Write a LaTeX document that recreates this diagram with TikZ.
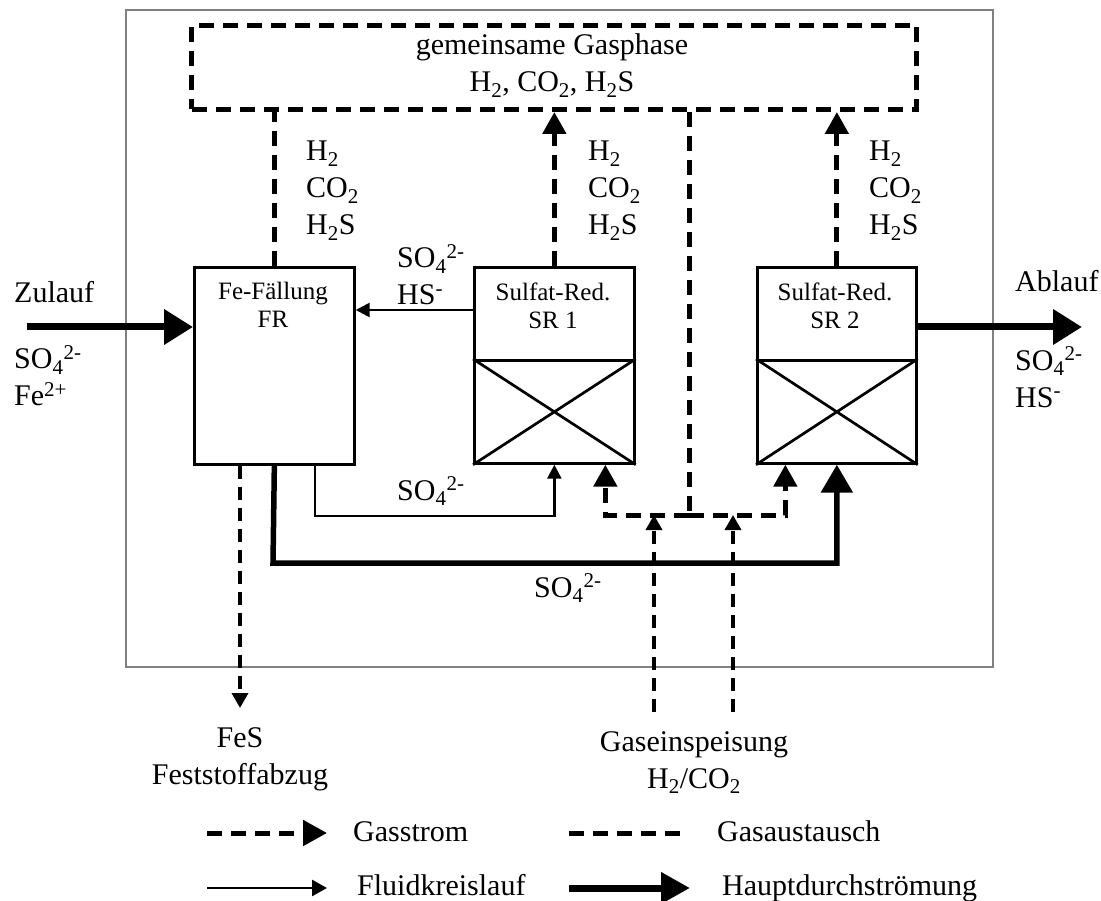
\documentclass[tikz,border=0pt]{standalone}
\usepackage{fontspec}
\setmainfont{Liberation Serif}
\usetikzlibrary{arrows.meta,positioning}

\newcommand{\sulfat}{SO\textsubscript{4}\textsuperscript{2-}}
\newcommand{\boxfont}{\fontsize{25}{28}\selectfont}

\tikzset{
  box/.style={draw,line width=2.7pt,inner sep=0pt,anchor=north west},
  gasline/.style={line width=5pt,dash pattern=on 15pt off 9pt},
  gasarrow/.style={gasline,-{Triangle[length=22pt,width=23pt]}},
  feedline/.style={line width=3.5pt,dash pattern=on 13pt off 8pt},
  feedarrow/.style={feedline,-{Triangle[length=15pt,width=16pt]}},
  fluid/.style={line width=2.6pt,-{Triangle[length=14pt,width=14pt]}},
  mainflow/.style={line width=5.5pt,-{Triangle[length=28pt,width=31pt]}},
  bigflow/.style={line width=7pt,-{Triangle[length=29pt,width=34pt]}},
  txt/.style={inner sep=0pt,anchor=base west,align=left},
  boxtxt/.style={inner sep=0pt,anchor=base,align=center,font=\boxfont},
}

\begin{document}
\begin{tikzpicture}[x=1pt,y=-1pt,font=\fontsize{30}{37}\selectfont]
\useasboundingbox (0,0) rectangle (1101,901);

% Anlage
\draw[gray,line width=1.4pt] (126,10) rectangle (993,667);

% Gasphase und Reaktoren
\node[box,gasline,minimum width=725pt,minimum height=84pt] (gas) at (189,23) {};
\node[inner sep=0pt,anchor=base,align=center] at (552,92) {gemeinsame Gasphase\\H\textsubscript{2}, CO\textsubscript{2}, H\textsubscript{2}S};
\node[box,minimum width=160pt,minimum height=197pt] (fr) at (193,266) {};
\node[box,minimum width=160pt,minimum height=93pt] (sr1) at (473,266) {};
\node[box,minimum width=160pt,minimum height=103pt] (bed1) at (473,359) {};
\node[box,minimum width=159pt,minimum height=93pt] (sr2) at (756,266) {};
\node[box,minimum width=159pt,minimum height=103pt] (bed2) at (756,359) {};
\draw[line width=2.7pt] (bed1.north west) -- (bed1.south east) (bed1.north east) -- (bed1.south west);
\draw[line width=2.7pt] (bed2.north west) -- (bed2.south east) (bed2.north east) -- (bed2.south west);
\node[boxtxt] at (273,328) {Fe-Fällung\\FR};
\node[boxtxt] at (553,329) {Sulfat-Red.\\SR 1};
\node[boxtxt] at (835,329) {Sulfat-Red.\\SR 2};

% Gasstroeme
\coordinate (jn) at (689,515);
\coordinate (feed1) at (654,712);
\coordinate (feed2) at (733,712);
\coordinate (fes) at (240,708);
\draw[gasline] (fr.north) -- (fr.north |- gas.south);
\draw[gasarrow] (sr1.north) -- (sr1.north |- gas.south);
\draw[gasarrow] (sr2.north) -- (sr2.north |- gas.south);
\draw[gasline] (gas.south -| jn) -- (jn);
\draw[gasarrow] (jn) -| ([xshift=51pt]bed1.south);
\draw[gasarrow] (jn) -| ([xshift=-51.5pt]bed2.south);
\draw[feedarrow] (feed1) -- (feed1 |- jn);
\draw[feedarrow] (feed2) -- (feed2 |- jn);
\draw[feedarrow] (fr.south -| fes) -- (fes);

% Fluidstroeme
\coordinate (r1) at (315,516);
\coordinate (r2) at (273,563);
\coordinate (back) at (0,310);
\coordinate (zu) at (27,327);
\coordinate (ab) at (1082,327);
\draw[fluid] (fr.south -| r1) -- (r1) -| (bed1.south);
\draw[mainflow] (fr.south) -- (r2) -| (bed2.south);
\draw[fluid] (sr1.west |- back) -- (fr.east |- back);
\draw[bigflow] (zu) -- (fr.west |- zu);
\draw[bigflow] (sr2.east |- ab) -- (ab);

% Beschriftung
\node[txt] at (14,303) {Zulauf};
\node[txt] at (14,406) {\sulfat\\Fe\textsuperscript{2+}};
\node[txt] at (1015,292) {Ablauf};
\node[txt] at (1015,407) {\sulfat\\HS\textsuperscript{-}};
\node[txt] at (306,235) {H\textsubscript{2}\\CO\textsubscript{2}\\H\textsubscript{2}S};
\node[txt] at (588,235) {H\textsubscript{2}\\CO\textsubscript{2}\\H\textsubscript{2}S};
\node[txt] at (869,235) {H\textsubscript{2}\\CO\textsubscript{2}\\H\textsubscript{2}S};
\node[txt] at (397,305) {\sulfat\\HS\textsuperscript{-}};
\node[txt] at (397,500) {\sulfat};
\node[txt] at (534,597) {\sulfat};
\node[inner sep=0pt,anchor=base,align=center] at (240,784) {FeS\\Feststoffabzug};
\node[inner sep=0pt,anchor=base,align=center] at (694,788) {Gaseinspeisung\\H\textsubscript{2}/CO\textsubscript{2}};

% Legende
\coordinate (l1) at (207,833);
\coordinate (l2) at (569,833);
\coordinate (l3) at (207,888);
\coordinate (l4) at (569,888);
\draw[gasline,-{Triangle[length=24pt,width=25pt]}] (l1) -- ++(120,0);
\draw[gasline] (l2) -- ++(116,0);
\draw[fluid,-{Triangle[length=15pt,width=16pt]}] (l3) -- ++(120,0);
\draw[bigflow,-{Triangle[length=29pt,width=30pt]}] (l4) -- ++(121,0);
\node[txt] at (353,841) {Gasstrom};
\node[txt] at (717,841) {Gasaustausch};
\node[txt] at (357,895) {Fluidkreislauf};
\node[txt] at (722,895) {Hauptdurchströmung};
\end{tikzpicture}
\end{document}
